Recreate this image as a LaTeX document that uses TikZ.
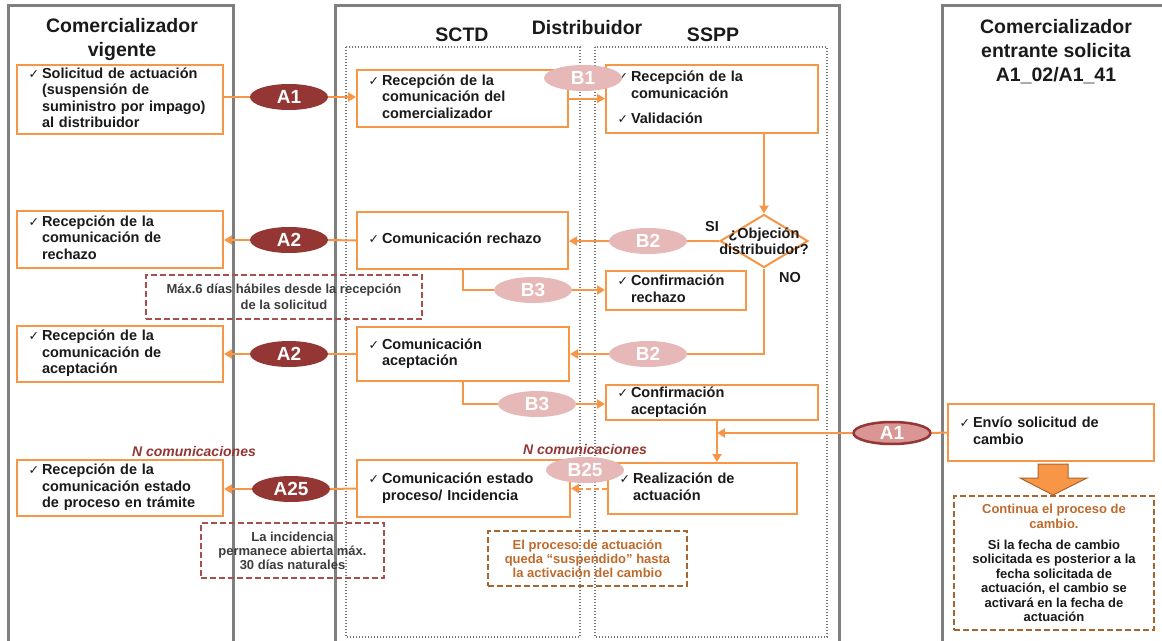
\documentclass[tikz,border=0pt]{standalone}
\usepackage{fontspec}
\setmainfont{Liberation Sans}
\newfontfamily\ckfont{DejaVu Sans}
\usetikzlibrary{shapes.geometric,arrows.meta}
\definecolor{orng}{HTML}{F79646}
\definecolor{dred}{HTML}{943634}
\definecolor{pinkb}{HTML}{E6B9B8}
\definecolor{pinkr}{HTML}{D99694}
\definecolor{panel}{HTML}{7F7F7F}
\definecolor{dotg}{HTML}{767676}
\definecolor{noter}{HTML}{A8504E}
\definecolor{noteb}{HTML}{A9652F}
\definecolor{notebt}{HTML}{BF6A2C}
\definecolor{txt}{HTML}{1A1A1A}
\newcommand{\ck}{\makebox[13.5pt][l]{\ckfont\fontsize{12.5}{12.5}\selectfont ✓}}
\newcommand{\bxfont}{\fontsize{14.5}{16.5}\selectfont\bfseries}
\begin{document}
\begin{tikzpicture}[x=1pt,y=-1pt,
  box/.style={draw=orng, line width=2pt, fill=white, align=left, inner xsep=11.5pt, inner ysep=0pt, font=\bxfont, text=txt},
  ell/.style={ellipse, inner sep=0pt, minimum width=78pt, minimum height=26pt, text=white, font=\fontsize{19}{19}\selectfont\bfseries},
  eA/.style={ell, fill=dred},
  eB/.style={ell, fill=pinkb},
  conn/.style={draw=orng, line width=2pt},
  arr/.style={conn, -{Triangle[length=8pt,width=9pt]}},
  note/.style={dash pattern=on 6pt off 3pt, line width=1.3pt, align=center, inner sep=0pt, font=\fontsize{13}{14}\selectfont\bfseries},
  lane/.style={draw=panel, line width=3pt},
  sub/.style={draw=dotg, line width=1.5pt, dash pattern=on 1.3pt off 1.7pt},
  ttl/.style={font=\fontsize{19.5}{24}\selectfont\bfseries, align=center, text=txt, inner sep=0pt}]
\useasboundingbox (0,0) rectangle (1162,640);

% lanes
\draw[lane] (8,648) -- (8,5) -- (233,5) -- (233,648);
\draw[lane] (335,648) -- (335,5) -- (839,5) -- (839,648);
\draw[lane] (942,648) -- (942,5) -- (1170,5);
\draw[sub] (346,47) rectangle (580,637);
\draw[sub] (595,47) rectangle (827,637);

% titles
\node[ttl] (T1) at (122,39) {Comercializador\\vigente};
\node[ttl] (T2) at (587,28) {Distribuidor};
\node[ttl] (T2a) at (462,35) {SCTD};
\node[ttl] (T2b) at (713,35) {SSPP};
\node[ttl] (T3) at (1056,52) {Comercializador\\entrante solicita\\A1\_02/A1\_41};

% boxes left
\node[box, text width=183pt, minimum height=69pt] (L1) at (120,99.5) {\begin{tabular}{@{}l@{}l@{}}\ck & Solicitud de actuación\\ & (suspensión de\\ & suministro por impago)\\ & al distribuidor\end{tabular}};
\node[box, text width=183pt, minimum height=57pt] (L2) at (120,239.5) {\begin{tabular}{@{}l@{}l@{}}\ck & Recepción de la\\ & comunicación de\\ & rechazo\end{tabular}};
\node[box, text width=183pt, minimum height=56pt] (L3) at (120,354) {\begin{tabular}{@{}l@{}l@{}}\ck & Recepción de la\\ & comunicación de\\ & aceptación\end{tabular}};
\node[box, text width=183pt, minimum height=56pt] (L4) at (120,488) {\begin{tabular}{@{}l@{}l@{}}\ck & Recepción de la\\ & comunicación estado\\ & de proceso en trámite\end{tabular}};

% boxes SCTD
\node[box, text width=188pt, minimum height=57pt] (S1) at (462.5,98.5) {\begin{tabular}{@{}l@{}l@{}}\ck & Recepción de la\\ & comunicación del\\ & comercializador\end{tabular}};
\node[box, text width=188pt, minimum height=57pt] (S2) at (462.5,240.5) {\begin{tabular}{@{}l@{}l@{}}\ck & Comunicación rechazo\end{tabular}};
\node[box, text width=189pt, minimum height=54pt] (S3) at (463,354) {\begin{tabular}{@{}l@{}l@{}}\ck & Comunicación\\ & aceptación\end{tabular}};
\node[box, text width=190pt, minimum height=57pt] (S4) at (463.5,488.5) {\begin{tabular}{@{}l@{}l@{}}\ck & Comunicación estado\\ & proceso/ Incidencia\end{tabular}};

% boxes SSPP
\node[box, text width=189pt, minimum height=68pt] (P1) at (712,99) {\begin{tabular}{@{}l@{}l@{}}\ck & Recepción de la\\ & comunicación\\[8.5pt] \ck & Validación\end{tabular}};
\node[box, text width=117pt, minimum height=39pt] (P2) at (676,290.5) {\begin{tabular}{@{}l@{}l@{}}\ck & Confirmación\\ & rechazo\end{tabular}};
\node[box, text width=189pt, minimum height=35pt] (P3) at (712,402.5) {\begin{tabular}{@{}l@{}l@{}}\ck & Confirmación\\ & aceptación\end{tabular}};
\node[box, text width=166pt, minimum height=51pt] (P4) at (702.5,488.5) {\begin{tabular}{@{}l@{}l@{}}\ck & Realización de\\ & actuación\end{tabular}};

% box right
\node[box, text width=183pt, minimum height=57pt] (R1) at (1051,432.5) {\begin{tabular}{@{}l@{}l@{}}\ck & Envío solicitud de\\ & cambio\end{tabular}};

% diamond
\node[diamond, draw=orng, line width=2pt, fill=white, minimum width=88pt, minimum height=53pt, inner sep=0pt] (D) at (764,241) {};
\node[font=\bxfont, align=center, text=txt, inner sep=0pt] (Dt) at (764,241) {¿Objeción\\distribuidor?};
\node[font=\bxfont, text=txt, inner sep=0pt] (SI) at (712,227) {SI};
\node[font=\bxfont, text=txt, inner sep=0pt] (NO) at (790,278) {NO};

% ellipses
\node[eA] (eA1) at (289,97) {A1};
\node[eB] (eB1) at (583,78) {B1};
\node[eA] (eA2a) at (289,240) {A2};
\node[eB] (eB2a) at (648,241) {B2};
\node[eB] (eB3a) at (533,290) {B3};
\node[eA] (eA2b) at (289,354) {A2};
\node[eB] (eB2b) at (648,354) {B2};
\node[eB] (eB3b) at (537,404) {B3};
\node[ell, fill=pinkr, draw=dred, line width=2.5pt, minimum width=77pt, minimum height=22pt] (eA1r) at (892,433) {A1};
\node[eA] (eA25) at (291,489) {A25};
\node[eB] (eB25) at (585,470) {B25};

% connectors
\draw[conn] (L1.east |- eA1) -- (eA1.west);
\draw[arr] (eA1.east) -- (S1.west |- eA1);
\draw[arr] (S1.east) -- (S1.east -| P1.west);
\draw[arr] (P1.south -| D.north) -- (D.north);
\draw[conn] (D.west) -- (eB2a.east);
\draw[arr] (eB2a.west) -- (S2.east |- eB2a);
\draw[conn] (S2.south) |- (eB3a.west);
\draw[arr] (eB3a.east) -- (P2.west |- eB3a);
\draw[conn] (D.south) |- (eB2b.east);
\draw[arr] (eB2b.west) -- (S3.east |- eB2b);
\draw[conn] (S3.south) |- (eB3b.west);
\draw[arr] (eB3b.east) -- (P3.west |- eB3b);
\coordinate (J) at ([xshift=5pt]P3.south);
\draw[arr] (J) -- (J |- P4.north);
\draw[conn] (R1.west) -- (eA1r.east);
\draw[arr] (eA1r.west) -- (J |- eA1r);
\draw[arr, dash pattern=on 5pt off 3pt] (P4.west) -- (S4.east);
\draw[conn] (S4.west) -- (eA25.east);
\draw[arr] (eA25.west) -- (L4.east |- eA25);
\draw[conn] (S2.west) -- (eA2a.east);
\draw[arr] (eA2a.west) -- (L2.east |- eA2a);
\draw[conn] (S3.west) -- (eA2b.east);
\draw[arr] (eA2b.west) -- (L3.east |- eA2b);

% block arrow
\draw[draw=noteb, fill=orng, line width=1pt, line join=miter] (1038,464) -- (1068,464) -- (1068,478) -- (1087,478) -- (1053,495) -- (1020,478) -- (1038,478) -- cycle;

% N comunicaciones
\node[font=\fontsize{14}{14}\selectfont\bfseries\itshape, text=dred, inner sep=0pt] (NC1) at (194,451) {N comunicaciones};
\node[font=\fontsize{14}{14}\selectfont\bfseries\itshape, text=dred, inner sep=0pt] (NC2) at (585,449) {N comunicaciones};

% notes
\node[note, draw=noter, text=txt!85, minimum width=276pt, minimum height=44pt] (N1) at (284,297) {Máx.6 días hábiles desde la recepción\\[2pt]de la solicitud};
\node[note, draw=noter, text=txt!85, minimum width=183pt, minimum height=55pt] (N2) at (292.5,550.5) {La incidencia\\permanece abierta máx.\\30 días naturales};
\node[note, draw=noteb, text=notebt, minimum width=199pt, minimum height=55pt] (N3) at (587.5,558.5) {El proceso de actuación\\queda “suspendido” hasta\\la activación del cambio};
\node[note, draw=noteb, text=txt, minimum width=200pt, minimum height=134pt, font=\fontsize{13}{14.4}\selectfont\bfseries] (N4) at (1054,563) {{\color{notebt}Continua el proceso de}\\{\color{notebt}cambio.}\\[7pt]Si la fecha de cambio\\solicitada es posterior a la\\fecha solicitada de\\actuación, el cambio se\\activará en la fecha de\\actuación};
\end{tikzpicture}
\end{document}
